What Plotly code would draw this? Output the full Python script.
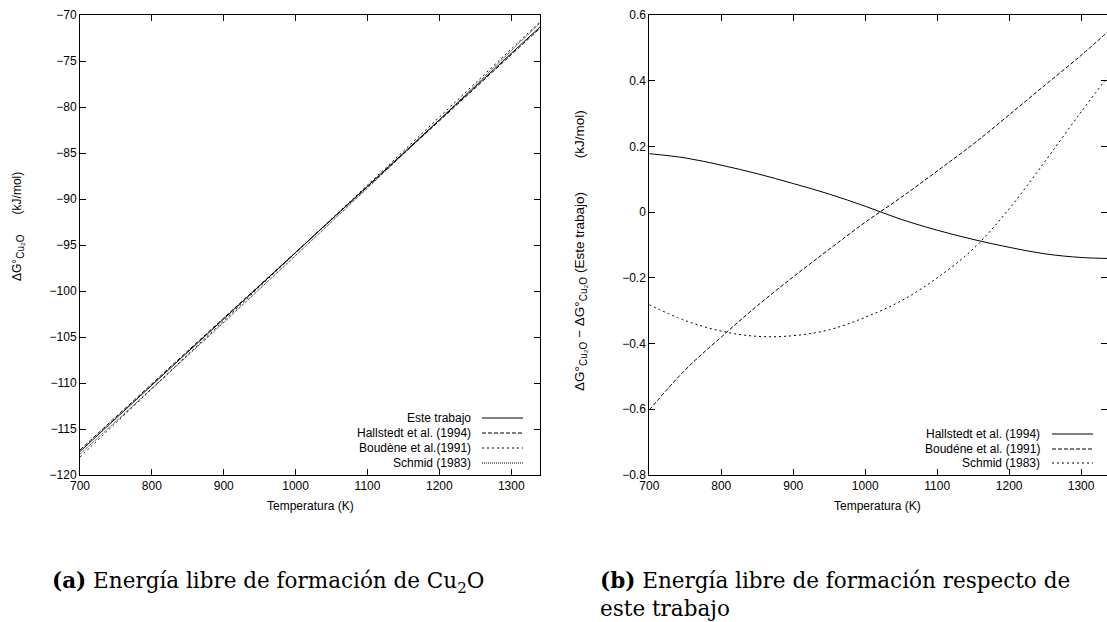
import plotly.graph_objects as go

W, H = 1107, 622

# ---------------- data ----------------
temperatura = [700, 750, 800, 850, 900, 950, 1000, 1050, 1100, 1150, 1200, 1250, 1300, 1340]

# (a) free energy of formation of Cu2O (kJ/mol)
este_trabajo = [-117.45, -113.84, -110.24, -106.63, -103.03, -99.42, -95.82,
                -92.21, -88.61, -85.00, -81.40, -77.79, -74.18, -71.30]
hallstedt_a = [-117.27, -113.68, -110.10, -106.51, -102.94, -99.37, -95.80,
               -92.23, -88.67, -85.08, -81.51, -77.92, -74.32, -71.44]
boudene_a = [-118.05, -114.32, -110.62, -106.92, -103.23, -99.53, -95.85,
             -92.17, -88.49, -84.79, -81.10, -77.40, -73.70, -70.75]
schmid_a = [-117.73, -114.17, -110.60, -107.01, -103.41, -99.78, -96.14,
            -92.48, -88.81, -85.11, -81.39, -77.64, -73.88, -70.88]

# (b) difference with respect to this work (kJ/mol)
hallstedt_b = [0.178, 0.165, 0.143, 0.117, 0.087, 0.055, 0.018,
               -0.022, -0.055, -0.083, -0.107, -0.127, -0.138, -0.141]
boudene_b = [-0.602, -0.480, -0.380, -0.285, -0.197, -0.113, -0.031,
             0.045, 0.125, 0.207, 0.296, 0.387, 0.477, 0.555]
schmid_b = [-0.282, -0.330, -0.362, -0.378, -0.376, -0.358, -0.320,
            -0.270, -0.200, -0.112, 0.010, 0.155, 0.305, 0.420]

legend_a = ["Este trabajo", "Hallstedt et al. (1994)", "Boudène et al.(1991)", "Schmid (1983)"]
legend_b = ["Hallstedt et al. (1994)", "Boudéne et al. (1991)", "Schmid (1983)"]

x_ticks = [700, 800, 900, 1000, 1100, 1200, 1300]
ya_ticks = [-120, -115, -110, -105, -100, -95, -90, -85, -80, -75, -70]
yb_ticks = [-0.8, -0.6, -0.4, -0.2, 0, 0.2, 0.4, 0.6]

# ---------------- styles ----------------
SOLID = "solid"
DASH2 = "4px,2px"
DASH3 = "2px,3px"
DOT4 = "1px,1px"
styles_a = [SOLID, DASH2, DASH3, DOT4]
styles_b = [SOLID, DASH2, DASH3]

FONT = "Liberation Sans, Arial, Helvetica, sans-serif"
SERIF = "DejaVu Serif, Liberation Serif, serif"


def px(x):
    return x / W


def py(y):
    return 1 - y / H


fig = go.Figure()

series_a = [este_trabajo, hallstedt_a, boudene_a, schmid_a]
for name, ys, dash in zip(legend_a, series_a, styles_a):
    fig.add_trace(go.Scatter(x=temperatura, y=ys, mode="lines", name=name,
                             line=dict(color="black", width=1, dash=dash, shape="spline"),
                             xaxis="x", yaxis="y", showlegend=False))

series_b = [hallstedt_b, boudene_b, schmid_b]
for name, ys, dash in zip(legend_b, series_b, styles_b):
    fig.add_trace(go.Scatter(x=temperatura, y=ys, mode="lines", name=name,
                             line=dict(color="black", width=1, dash=dash, shape="spline"),
                             xaxis="x2", yaxis="y2", showlegend=False))

ydom = [py(475), py(15)]
axis_common = dict(showgrid=False, zeroline=False, showline=True, linecolor="black",
                   linewidth=1, mirror="ticks", ticks="inside", ticklen=6,
                   tickcolor="black", tickwidth=1, automargin=False,
                   tickfont=dict(family=FONT, size=12, color="black"))

fig.update_layout(
    template="none",
    width=W, height=H,
    margin=dict(l=0, r=0, t=0, b=0, pad=0),
    paper_bgcolor="white", plot_bgcolor="white",
    xaxis=dict(domain=[px(80), px(540)], range=[700, 1340], tickvals=x_ticks,
               anchor="y", **axis_common),
    yaxis=dict(domain=ydom, range=[-120, -70], tickvals=ya_ticks, anchor="x",
               **axis_common),
    xaxis2=dict(domain=[px(649.3), 1.0], range=[700, 1336], tickvals=x_ticks,
                anchor="y2", **axis_common),
    yaxis2=dict(domain=ydom, range=[-0.8, 0.6], tickvals=yb_ticks, anchor="x2",
                **axis_common),
    showlegend=False,
)

ann = []
shapes = []

SUBCU = '<sub><span style="font-size:10px">Cu₂O</span></sub>'
NB = "\u00a0"


def text_ann(x, y, text, size=12, family=FONT, xanchor="center", yanchor="middle",
             angle=0, align="center"):
    return dict(x=px(x), y=py(y), xref="paper", yref="paper", showarrow=False,
                xanchor=xanchor, yanchor=yanchor, textangle=angle, align=align,
                text=text, font=dict(family=family, size=size, color="black"))


# axis titles
ann.append(text_ann(310, 506, "Temperatura (K)"))
ann.append(text_ann(878, 506, "Temperatura (K)"))
ann.append(text_ann(18, 227, "ΔG°" + SUBCU + NB * 6 + "(kJ/mol)", angle=-90))
ann.append(text_ann(580, 251,
                    "ΔG°" + SUBCU + " − ΔG°" + SUBCU + " (Este trabajo)" + NB * 9 + "(kJ/mol)",
                    size=13.5, angle=-90))

# legends (gnuplot style: text right-aligned, sample on the right)
rows_a = [418, 433, 448, 463]
for label, dash, yy in zip(legend_a, styles_a, rows_a):
    ann.append(text_ann(473, yy, label, xanchor="right"))
    shapes.append(dict(type="line", xref="paper", yref="paper",
                       x0=px(482), x1=px(523), y0=py(yy), y1=py(yy),
                       line=dict(color="black", width=1, dash=dash)))

rows_b = [434, 449, 463]
for label, dash, yy in zip(legend_b, styles_b, rows_b):
    ann.append(text_ann(1042, yy, label, xanchor="right"))
    shapes.append(dict(type="line", xref="paper", yref="paper",
                       x0=px(1052), x1=px(1093), y0=py(yy), y1=py(yy),
                       line=dict(color="black", width=1, dash=dash)))

# captions
ann.append(text_ann(50, 566, "<b>(a)</b> Energía libre de formación de Cu<sub>2</sub>O",
                    size=21.5, family=SERIF, xanchor="left", yanchor="top", align="left"))
ann.append(text_ann(598, 566, "<b>(b)</b> Energía libre de formación respecto de<br>este trabajo",
                    size=21.5, family=SERIF, xanchor="left", yanchor="top", align="left"))

fig.update_layout(annotations=ann, shapes=shapes)

fig.write_html("out.html")
